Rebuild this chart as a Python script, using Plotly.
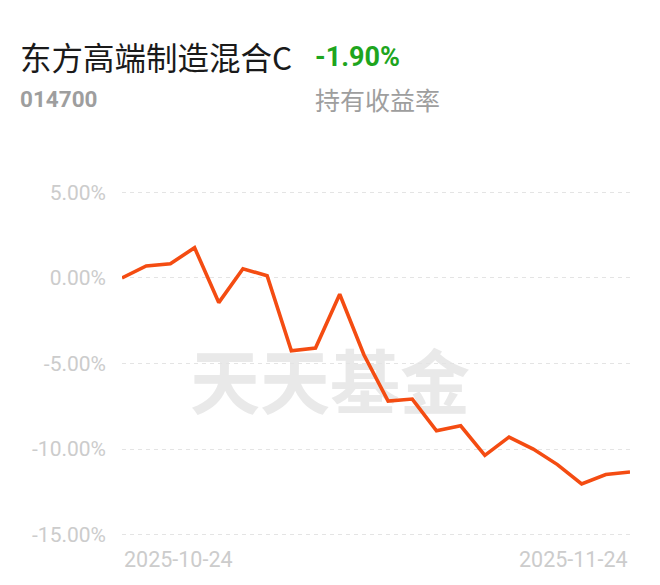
import plotly.graph_objects as go

# ---- data ----
dates = ["2025-10-24", "2025-10-27", "2025-10-28", "2025-10-29", "2025-10-30", "2025-10-31",
         "2025-11-03", "2025-11-04", "2025-11-05", "2025-11-06", "2025-11-07",
         "2025-11-10", "2025-11-11", "2025-11-12", "2025-11-13", "2025-11-14",
         "2025-11-17", "2025-11-18", "2025-11-19", "2025-11-20", "2025-11-21", "2025-11-24"]
returns = [0.0, 0.70, 0.83, 1.77, -1.44, 0.54, 0.13, -4.26, -4.10, -0.95, -4.49,
           -7.20, -7.08, -8.93, -8.64, -10.37, -9.30, -10.00, -10.91, -12.04, -11.49, -11.34]
y_ticks = [5, 0, -5, -10, -15]
y_tick_labels = ["5.00%", "0.00%", "-5.00%", "-10.00%", "-15.00%"]
x_tick_labels = ["2025-10-24", "2025-11-24"]
fund_name = "东方高端制造混合C"
fund_code = "014700"
hold_return = "-1.90%"
hold_label = "持有收益率"
watermark = "天天基金"

OFF = 8  # page body margin
W, H = 660 - OFF, 585 - OFF
L, R = 122 - OFF, 630 - OFF
T, B = 188.6 - OFF, 538.4 - OFF


def px(xp):
    return (xp - OFF - L) / (R - L)


def py(yp):
    return (B - (yp - OFF)) / (B - T)


fig = go.Figure()
fig.add_trace(go.Scatter(
    x=dates, y=returns, mode="lines",
    line=dict(color="#f44c12", width=3.6),
    hoverinfo="skip", showlegend=False,
))

fig.update_layout(
    width=W, height=H,
    margin=dict(l=L, r=W - R, t=T, b=H - B, pad=0),
    paper_bgcolor="white", plot_bgcolor="white",
    font=dict(family="Roboto, 'Noto Sans CJK SC', sans-serif"),
    xaxis=dict(type="category", range=[0, len(dates) - 1], showgrid=False,
               showticklabels=False, zeroline=False, showline=False, fixedrange=True),
    yaxis=dict(range=[-15.2, 5.2], tickvals=y_ticks, ticktext=y_tick_labels,
               showgrid=True, gridcolor="#e4e4e4", gridwidth=1, griddash="4px,4px",
               zeroline=False, showline=False, ticks="",
               ticklabelstandoff=15,
               tickfont=dict(size=21, color="#cccccc", family="Roboto"), fixedrange=True),
    shapes=[dict(type="rect", xref="paper", yref="paper",
                 x0=px(188), x1=px(472), y0=py(425), y1=py(355),
                 line=dict(width=0), fillcolor="rgba(0,0,0,0)", layer="below",
                 label=dict(text="<b>" + watermark + "</b>", textposition="middle center",
                            font=dict(size=70, color="#e9e9e9",
                                      family="'Noto Sans CJK SC', sans-serif")))],
)

ann = []
ann.append(dict(text=x_tick_labels[0], x=dates[0], xref="x", y=py(560), yref="paper",
                xanchor="left", yanchor="middle", showarrow=False,
                font=dict(size=21.5, color="#cccccc", family="Roboto")))
ann.append(dict(text=x_tick_labels[1], x=dates[-1], xref="x", y=py(560), yref="paper",
                xanchor="right", yanchor="middle", showarrow=False,
                font=dict(size=21.5, color="#cccccc", family="Roboto")))
ann.append(dict(text=fund_name, x=px(18), y=py(55), xref="paper", yref="paper",
                xanchor="left", yanchor="middle", showarrow=False,
                font=dict(size=31.5, color="#1a1a1a", family="'Noto Sans CJK SC', Roboto")))
ann.append(dict(text="<b>" + hold_return + "</b>", x=px(313), y=py(56), xref="paper", yref="paper",
                xanchor="left", yanchor="middle", showarrow=False,
                font=dict(size=27, color="#1ea51e", family="Roboto")))
ann.append(dict(text="<b>" + fund_code + "</b>", x=px(18), y=py(98), xref="paper", yref="paper",
                xanchor="left", yanchor="middle", showarrow=False,
                font=dict(size=22.5, color="#9e9e9e", family="Roboto")))
ann.append(dict(text=hold_label, x=px(313), y=py(98), xref="paper", yref="paper",
                xanchor="left", yanchor="middle", showarrow=False,
                font=dict(size=25, color="#9e9e9e", family="'Noto Sans CJK SC', sans-serif")))
fig.update_layout(annotations=ann)

fig.write_html("out.html", config={"displayModeBar": False})
